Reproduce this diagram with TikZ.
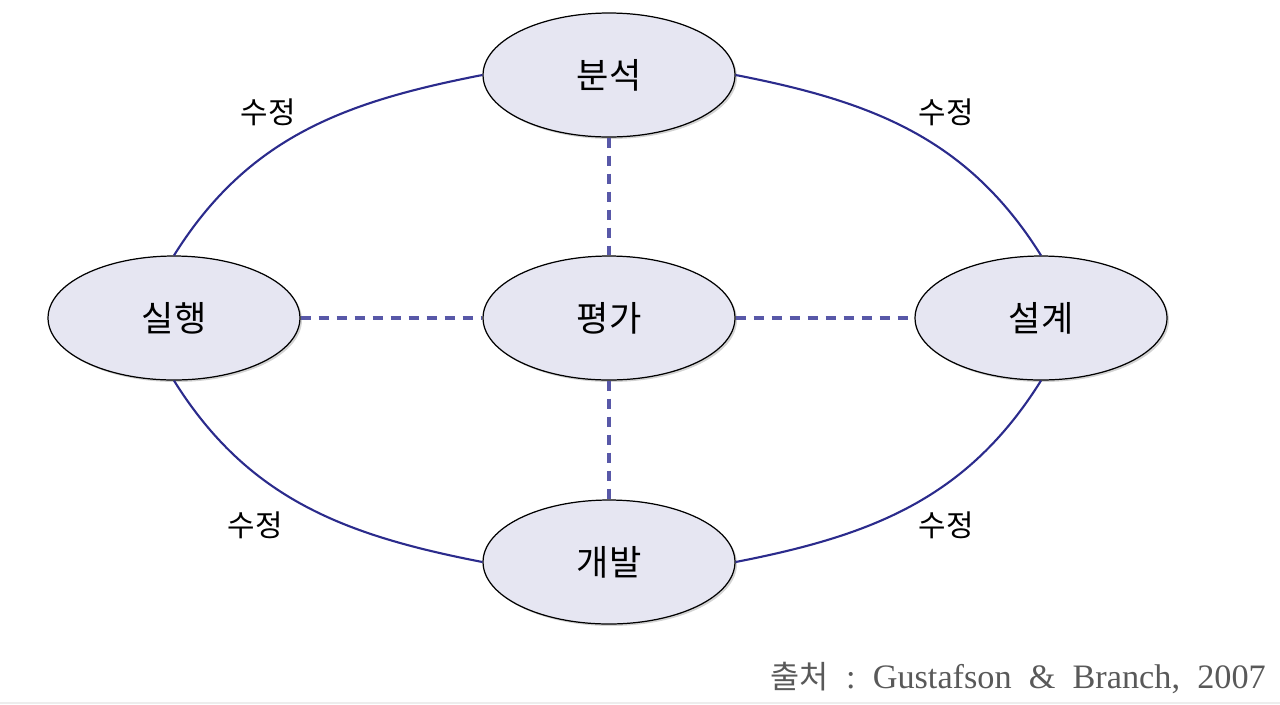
\documentclass[tikz,border=0pt]{standalone}
\usepackage{fontspec}
\setmainfont{Liberation Serif}
\newfontfamily\kr{Noto Sans CJK KR}
\usetikzlibrary{shapes.geometric,shadows}
\definecolor{stepfill}{HTML}{E6E6F2}
\definecolor{cycleline}{HTML}{2B2B8C}
\definecolor{evalline}{HTML}{5858A8}
\tikzset{phase/.style={ellipse, draw=black, line width=0.7pt, fill=stepfill, minimum width=5.04cm, minimum height=2.48cm,
    drop shadow={shadow xshift=0.04cm, shadow yshift=-0.04cm, opacity=0.35}, font=\kr\fontsize{20}{24}\selectfont},
  cycle/.style={cycleline, line width=1.2pt},
  evallink/.style={evalline, line width=2pt, dash pattern=on 0.21cm off 0.15cm},
  revise/.style={font=\kr\fontsize{17}{20}\selectfont}}

\begin{document}
\begin{tikzpicture}[x=0.02cm, y=-0.02cm]
  \useasboundingbox (0,0) rectangle (1280,704);
  \fill[black!7] (0,702) rectangle (1280,704);
  % links first, ellipses on top
  \coordinate (an) at (609, 75);
  \coordinate (ev) at (609,318);
  \coordinate (im) at (174,318);
  \coordinate (de) at (1041,318);
  \coordinate (dv) at (609,562);
  \node[phase] (analysis) at (an) {분석};
  \node[phase] (eval) at (ev) {평가};
  \node[phase] (impl) at (im) {실행};
  \node[phase] (design) at (de) {설계};
  \node[phase] (dev) at (dv) {개발};
  \draw[cycle] (impl.north) to[out=58, in=191] (analysis.west);
  \draw[cycle] (analysis.east) to[out=-11, in=122] (design.north);
  \draw[cycle] (impl.south) to[out=-58, in=169] (dev.west);
  \draw[cycle] (dev.east) to[out=11, in=238] (design.south);
  \draw[evallink] (analysis.south) -- (eval.north);
  \draw[evallink] (impl.east) -- (eval.west);
  \draw[evallink] (eval.east) -- (design.west);
  \draw[evallink] (eval.south) -- (dev.north);
  \node[revise] (rev1) at (268,112) {수정};
  \node[revise] (rev2) at (946,112) {수정};
  \node[revise] (rev3) at (255,525) {수정};
  \node[revise] (rev4) at (946,525) {수정};
  \node[anchor=base east, text=black!65, font=\fontsize{19.5}{24}\selectfont] (source) at (1272,688)
    {{\kr\fontsize{18}{24}\selectfont 출처}\ \ :\ \ Gustafson\ \ \&\ \ Branch,\ \ 2007};
\end{tikzpicture}
\end{document}
